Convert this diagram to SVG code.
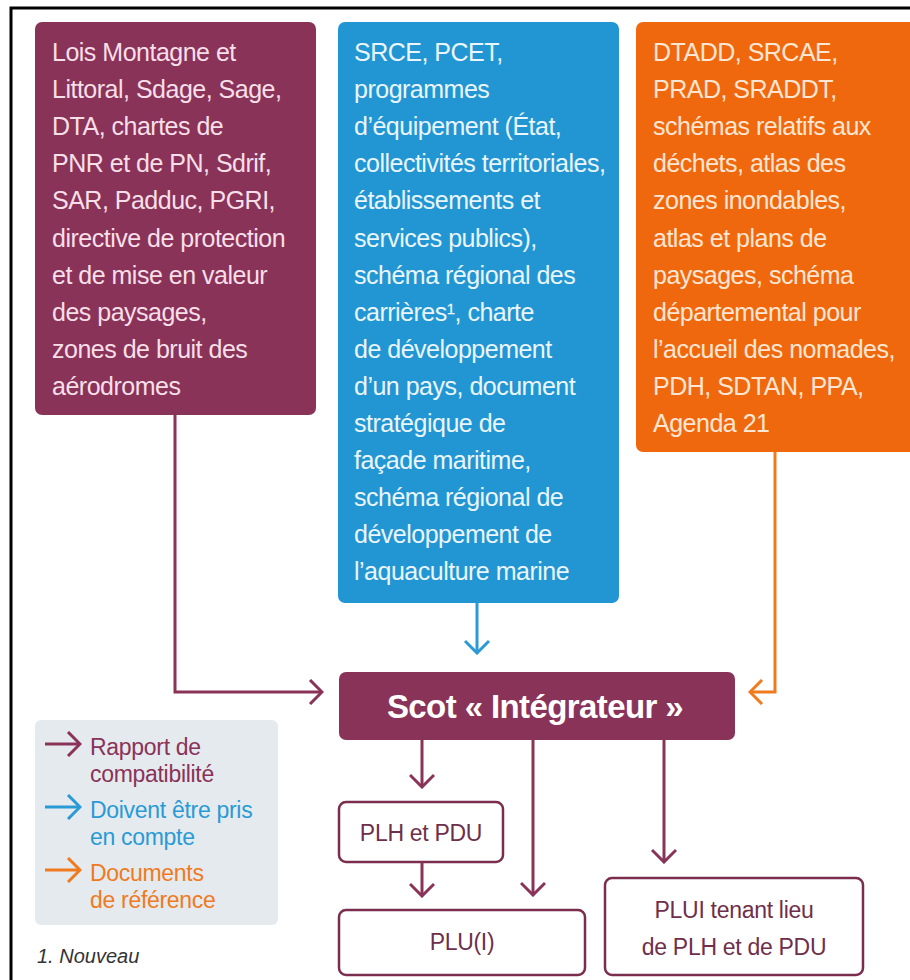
<svg xmlns="http://www.w3.org/2000/svg" width="910" height="980" viewBox="0 0 910 980">
<defs>
<style>
.box{font-family:"Liberation Sans",Arial,sans-serif;font-size:25px;letter-spacing:-0.5px}
.tp{fill:#f6dfe8}
.tb{fill:#eaf5fc}
.to{fill:#fee6d4}
.sm{font-family:"Liberation Sans",Arial,sans-serif;font-size:23px;fill:#6e2f4a;text-anchor:middle;letter-spacing:-0.3px}
.leg{font-family:"Liberation Sans",Arial,sans-serif;font-size:23px;letter-spacing:-0.3px}
.cp{fill:none;stroke:#8a3358;stroke-width:3}
.cb{fill:none;stroke:#2a9ad6;stroke-width:3}
.co{fill:none;stroke:#f07a1e;stroke-width:3}
</style>
<marker id="ap" markerUnits="userSpaceOnUse" viewBox="0 0 24 26" markerWidth="24" markerHeight="26" refX="22" refY="13" orient="auto"><path d="M10,1 L22,13 L10,25" fill="none" stroke="#8a3358" stroke-width="3"/></marker>
<marker id="ab" markerUnits="userSpaceOnUse" viewBox="0 0 24 26" markerWidth="24" markerHeight="26" refX="22" refY="13" orient="auto"><path d="M10,1 L22,13 L10,25" fill="none" stroke="#2a9ad6" stroke-width="3"/></marker>
<marker id="ao" markerUnits="userSpaceOnUse" viewBox="0 0 24 26" markerWidth="24" markerHeight="26" refX="22" refY="13" orient="auto"><path d="M10,1 L22,13 L10,25" fill="none" stroke="#f07a1e" stroke-width="3"/></marker>
</defs>
<rect width="910" height="980" fill="#ffffff"/>
<path d="M11,980 L11,8 L910,8" fill="none" stroke="#000" stroke-width="3"/>

<g id="node-purple">
<rect x="35" y="22" width="281" height="393" rx="7" fill="#8a3358"/>
<text class="box tp" x="52">
<tspan x="52" y="61">Lois Montagne et</tspan>
<tspan x="52" y="98.1">Littoral, Sdage, Sage,</tspan>
<tspan x="52" y="135.2">DTA, chartes de</tspan>
<tspan x="52" y="172.3">PNR et de PN, Sdrif,</tspan>
<tspan x="52" y="209.4">SAR, Padduc, PGRI,</tspan>
<tspan x="52" y="246.5">directive de protection</tspan>
<tspan x="52" y="283.6">et de mise en valeur</tspan>
<tspan x="52" y="320.7">des paysages,</tspan>
<tspan x="52" y="357.8">zones de bruit des</tspan>
<tspan x="52" y="394.9">aérodromes</tspan>
</text>
</g>

<g id="node-blue">
<rect x="338" y="22" width="281" height="581" rx="7" fill="#2196d3"/>
<text class="box tb">
<tspan x="354" y="61">SRCE, PCET,</tspan>
<tspan x="354" y="98.1">programmes</tspan>
<tspan x="354" y="135.2">d’équipement (État,</tspan>
<tspan x="354" y="172.3">collectivités territoriales,</tspan>
<tspan x="354" y="209.4">établissements et</tspan>
<tspan x="354" y="246.5">services publics),</tspan>
<tspan x="354" y="283.6">schéma régional des</tspan>
<tspan x="354" y="320.7">carrières¹, charte</tspan>
<tspan x="354" y="357.8">de développement</tspan>
<tspan x="354" y="394.9">d’un pays, document</tspan>
<tspan x="354" y="432">stratégique de</tspan>
<tspan x="354" y="469.1">façade maritime,</tspan>
<tspan x="354" y="506.2">schéma régional de</tspan>
<tspan x="354" y="543.3">développement de</tspan>
<tspan x="354" y="580.4">l’aquaculture marine</tspan>
</text>
</g>

<g id="node-orange">
<rect x="636" y="22" width="284" height="430" rx="7" fill="#f0680e"/>
<text class="box to">
<tspan x="653" y="61">DTADD, SRCAE,</tspan>
<tspan x="653" y="98.1">PRAD, SRADDT,</tspan>
<tspan x="653" y="135.2">schémas relatifs aux</tspan>
<tspan x="653" y="172.3">déchets, atlas des</tspan>
<tspan x="653" y="209.4">zones inondables,</tspan>
<tspan x="653" y="246.5">atlas et plans de</tspan>
<tspan x="653" y="283.6">paysages, schéma</tspan>
<tspan x="653" y="320.7">départemental pour</tspan>
<tspan x="653" y="357.8">l’accueil des nomades,</tspan>
<tspan x="653" y="394.9">PDH, SDTAN, PPA,</tspan>
<tspan x="653" y="432">Agenda 21</tspan>
</text>
</g>

<g id="node-scot">
<rect x="339" y="672" width="396" height="68" rx="7" fill="#8a3358"/>
<text x="535" y="718" font-family="'Liberation Sans',Arial,sans-serif" font-size="33" font-weight="bold" fill="#ffffff" text-anchor="middle" letter-spacing="-0.6">Scot « Intégrateur »</text>
</g>

<g id="node-plh">
<rect x="339" y="802" width="164" height="60" rx="7" fill="#ffffff" stroke="#7a2d4c" stroke-width="2.5"/>
<text class="sm" x="421" y="841">PLH et PDU</text>
</g>

<g id="node-plu">
<rect x="339" y="910" width="246" height="65" rx="7" fill="#ffffff" stroke="#7a2d4c" stroke-width="2.5"/>
<text class="sm" x="462" y="950">PLU(I)</text>
</g>

<g id="node-plui">
<rect x="605" y="878" width="258" height="97" rx="7" fill="#ffffff" stroke="#7a2d4c" stroke-width="2.5"/>
<text class="sm" x="734" y="918">PLUI tenant lieu</text>
<text class="sm" x="734" y="955">de PLH et de PDU</text>
</g>

<g id="connectors">
<path class="cp" d="M175,415 L175,692 L322,692" marker-end="url(#ap)"/>
<path class="cb" d="M477,603 L477,653" marker-end="url(#ab)"/>
<path class="co" d="M775,452 L775,692 L750,692" marker-end="url(#ao)"/>
<path class="cp" d="M422,740 L422,787" marker-end="url(#ap)"/>
<path class="cp" d="M422,862 L422,896" marker-end="url(#ap)"/>
<path class="cp" d="M533,740 L533,895" marker-end="url(#ap)"/>
<path class="cp" d="M664,740 L664,862" marker-end="url(#ap)"/>
</g>

<g id="legend">
<rect x="35" y="720" width="243" height="205" rx="6" fill="#e5eaee"/>
<path class="cp" d="M45,744 L80,744" marker-end="url(#ap)"/>
<path class="cb" d="M45,807 L80,807" marker-end="url(#ab)"/>
<path class="co" d="M45,870 L80,870" marker-end="url(#ao)"/>
<text class="leg" fill="#8a3358"><tspan x="90" y="755">Rapport de</tspan><tspan x="90" y="782">compatibilité</tspan></text>
<text class="leg" fill="#2a9ad6"><tspan x="90" y="818">Doivent être pris</tspan><tspan x="90" y="845">en compte</tspan></text>
<text class="leg" fill="#f07a1e"><tspan x="90" y="881">Documents</tspan><tspan x="90" y="908">de référence</tspan></text>
</g>

<text x="37" y="963" font-family="'Liberation Sans',Arial,sans-serif" font-size="20" font-style="italic" fill="#333333">1. Nouveau</text>
</svg>
